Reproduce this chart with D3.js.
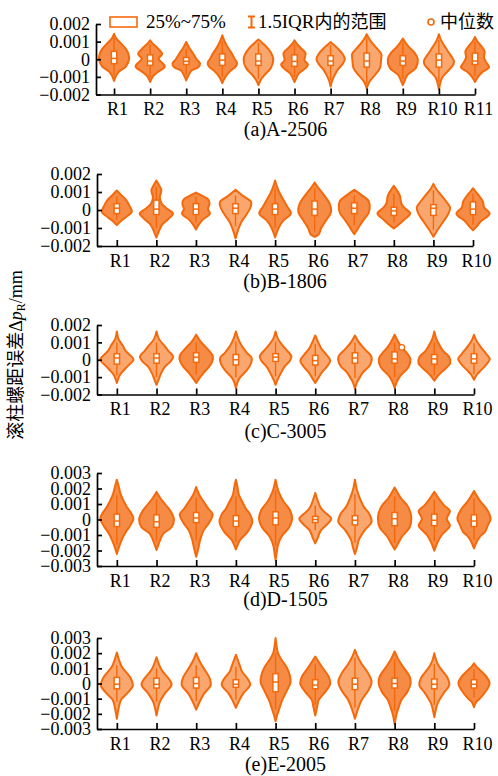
<!DOCTYPE html>
<html>
<head>
<meta charset="utf-8">
<script src="https://cdn.jsdelivr.net/npm/d3@7"></script>
<style>
  body { margin: 0; background: #fff; }
  svg { display: block; font-family: "Liberation Serif", "Times New Roman", "Noto Sans CJK SC", serif; }
  .tick text { font-family: "Liberation Serif", serif; font-size: 18px; fill: #000; }
</style>
</head>
<body>
<svg id="chart" width="498" height="776"></svg>
<script>
// Categories and tick values
const cats11 = ['R1', 'R2', 'R3', 'R4', 'R5', 'R6', 'R7', 'R8', 'R9', 'R10', 'R11'];
const cats10 = ['R1', 'R2', 'R3', 'R4', 'R5', 'R6', 'R7', 'R8', 'R9', 'R10'];
const ticks2 = [-2, -1, 0, 1, 2];   // x 0.001 mm
const ticks3 = [-3, -2, -1, 0, 1, 2, 3];

// Violin outlines: [value (x0.001 mm), relative density]
const violinsA = [
  [[-1.23,0],[-0.9,0.12],[-0.7,0.25],[-0.4,0.6],[0,0.75],[0.3,0.72],[0.6,0.58],[0.95,0.3],[1.2,0.1],[1.44,0]],
  [[-1.29,0],[-1.0,0.12],[-0.75,0.35],[-0.4,0.73],[-0.1,0.5],[0.05,0.42],[0.3,0.6],[0.6,0.4],[0.9,0.12],[1.08,0]],
  [[-1.2,0],[-0.9,0.12],[-0.65,0.25],[-0.45,0.6],[-0.25,0.69],[0,0.52],[0.35,0.33],[0.65,0.15],[0.98,0]],
  [[-1.35,0],[-1.0,0.15],[-0.7,0.37],[-0.4,0.68],[-0.2,0.73],[0.05,0.6],[0.35,0.46],[0.75,0.23],[1.05,0.1],[1.36,0]],
  [[-1.47,0],[-1.2,0.1],[-0.9,0.3],[-0.5,0.62],[0,0.74],[0.3,0.66],[0.6,0.48],[0.87,0.25],[1.12,0]],
  [[-1.29,0],[-1.0,0.12],[-0.8,0.22],[-0.5,0.55],[-0.3,0.67],[-0.05,0.5],[0.35,0.55],[0.65,0.3],[0.9,0.1],[1.08,0]],
  [[-1.55,0],[-1.2,0.08],[-0.9,0.2],[-0.6,0.35],[-0.3,0.58],[0,0.71],[0.3,0.6],[0.6,0.37],[0.85,0.12],[0.98,0]],
  [[-1.66,0],[-1.3,0.12],[-0.95,0.37],[-0.5,0.66],[0,0.72],[0.3,0.73],[0.6,0.52],[0.97,0.24],[1.2,0.1],[1.42,0]],
  [[-1.47,0],[-1.2,0.1],[-0.9,0.22],[-0.5,0.65],[0,0.75],[0.35,0.6],[0.7,0.3],[1.0,0.1],[1.17,0]],
  [[-1.7,0],[-1.3,0.08],[-1.05,0.16],[-0.7,0.42],[-0.3,0.72],[-0.1,0.75],[0.4,0.48],[0.75,0.28],[1.1,0.1],[1.42,0]],
  [[-1.29,0],[-1.0,0.15],[-0.75,0.35],[-0.45,0.7],[-0.15,0.55],[0.1,0.45],[0.45,0.48],[0.8,0.28],[1.05,0.1],[1.27,0]]
];
// [whisker low, q1, median, q3, whisker high]
const boxesA = [
  [-0.9,-0.25,0.05,0.45,1.2], [-1.0,-0.35,-0.1,0.25,0.85], [-0.9,-0.3,-0.12,0.1,0.6],
  [-1.0,-0.35,-0.05,0.3,1.0], [-1.1,-0.35,-0.1,0.3,0.95], [-1.0,-0.4,-0.12,0.25,0.85],
  [-1.2,-0.35,-0.1,0.2,0.8], [-1.4,-0.45,-0.1,0.35,1.2], [-1.1,-0.35,-0.1,0.2,0.95],
  [-1.3,-0.45,-0.05,0.3,1.1], [-0.95,-0.3,-0.1,0.35,1.0]
];

const violinsB = [
  [[-0.84,0],[-0.6,0.22],[-0.4,0.45],[-0.1,0.75],[0.2,0.65],[0.55,0.47],[0.85,0.2],[1.08,0]],
  [[-1.53,0],[-1.2,0.12],[-0.8,0.3],[-0.5,0.6],[-0.2,0.83],[0.1,0.5],[0.35,0.27],[0.7,0.17],[1.1,0.25],[1.4,0.12],[1.64,0]],
  [[-1.08,0],[-0.8,0.15],[-0.55,0.33],[-0.2,0.7],[0.05,0.6],[0.35,0.68],[0.6,0.6],[0.8,0.3],[0.97,0]],
  [[-1.58,0],[-1.2,0.1],[-0.9,0.2],[-0.6,0.33],[-0.2,0.58],[0.15,0.75],[0.45,0.78],[0.8,0.35],[1.12,0]],
  [[-1.53,0],[-1.2,0.1],[-0.9,0.22],[-0.6,0.4],[-0.2,0.79],[0.2,0.6],[0.55,0.42],[1.0,0.2],[1.35,0.08],[1.64,0]],
  [[-1.49,0],[-1.35,0.2],[-1.0,0.33],[-0.55,0.58],[-0.1,0.82],[0.35,0.75],[0.9,0.42],[1.2,0.2],[1.53,0]],
  [[-1.34,0],[-1.1,0.15],[-0.9,0.25],[-0.5,0.5],[-0.2,0.7],[0.1,0.77],[0.5,0.72],[0.8,0.4],[1.12,0]],
  [[-1.02,0],[-0.8,0.25],[-0.55,0.5],[-0.2,0.82],[0.1,0.55],[0.35,0.38],[0.8,0.3],[1.1,0.15],[1.34,0]],
  [[-1.49,0],[-1.15,0.18],[-0.6,0.52],[-0.2,0.75],[0.15,0.83],[0.5,0.62],[0.85,0.37],[1.15,0.15],[1.45,0]],
  [[-1.12,0],[-0.9,0.2],[-0.65,0.37],[-0.2,0.83],[0.15,0.55],[0.45,0.5],[0.75,0.33],[1.0,0.15],[1.21,0]]
];
const boxesB = [
  [-0.55,-0.2,0.1,0.35,0.75], [-1.0,-0.25,0.05,0.55,1.3], [-0.7,-0.25,0.05,0.35,0.75],
  [-0.9,-0.2,0.1,0.35,0.8], [-1.0,-0.25,0.05,0.35,1.2], [-1.2,-0.3,0.05,0.5,1.2],
  [-0.85,-0.2,0.1,0.4,0.8], [-0.7,-0.3,-0.05,0.15,0.9], [-1.1,-0.3,0.1,0.3,1.1],
  [-0.8,-0.25,0.05,0.45,0.9]
];

const violinsC = [
  [[-1.34,0],[-1.0,0.1],[-0.8,0.2],[-0.4,0.52],[0,0.83],[0.2,0.72],[0.5,0.45],[0.8,0.3],[1.2,0.08],[1.63,0]],
  [[-1.44,0],[-1.1,0.12],[-0.8,0.22],[-0.4,0.42],[-0.1,0.7],[0.2,0.83],[0.5,0.6],[0.8,0.4],[1.2,0.12],[1.63,0]],
  [[-1.34,0],[-1.0,0.2],[-0.75,0.37],[-0.4,0.65],[-0.1,0.8],[0.2,0.83],[0.65,0.54],[1.0,0.25],[1.44,0]],
  [[-1.63,0],[-1.3,0.08],[-1.0,0.22],[-0.6,0.55],[-0.2,0.76],[0.1,0.79],[0.4,0.55],[0.8,0.29],[1.2,0.12],[1.63,0]],
  [[-1.44,0],[-1.1,0.12],[-0.8,0.25],[-0.4,0.45],[-0.05,0.72],[0.2,0.79],[0.5,0.6],[0.8,0.37],[1.2,0.12],[1.63,0]],
  [[-1.34,0],[-1.0,0.18],[-0.7,0.35],[-0.4,0.58],[-0.05,0.75],[0.3,0.55],[0.6,0.33],[1.0,0.15],[1.4,0]],
  [[-1.67,0],[-1.3,0.1],[-1.0,0.25],[-0.75,0.38],[-0.3,0.75],[0.15,0.83],[0.6,0.5],[1.0,0.2],[1.4,0]],
  [[-1.63,0],[-1.3,0.1],[-0.95,0.27],[-0.4,0.7],[0.05,0.79],[0.4,0.6],[0.7,0.37],[1.05,0.17],[1.44,0]],
  [[-1.21,0],[-0.9,0.2],[-0.65,0.42],[-0.2,0.79],[0.15,0.75],[0.5,0.45],[0.8,0.28],[1.2,0.1],[1.63,0]],
  [[-1.15,0],[-0.85,0.15],[-0.6,0.35],[-0.3,0.6],[0.05,0.79],[0.35,0.6],[0.7,0.36],[1.1,0.12],[1.44,0]]
];
const boxesC = [
  [-0.9,-0.25,0.1,0.35,1.0], [-1.0,-0.2,0.1,0.35,1.0], [-0.85,-0.15,0.15,0.4,1.0],
  [-1.0,-0.3,0.0,0.3,1.05], [-0.95,-0.1,0.15,0.35,1.05], [-0.95,-0.3,-0.05,0.25,0.9],
  [-1.05,-0.2,0.1,0.4,1.0], [-1.0,-0.2,0.05,0.45,1.0], [-0.9,-0.25,0.05,0.3,1.0],
  [-0.8,-0.2,0.05,0.35,0.95]
];
// stray point in (c) R8: [category index, value, offset in category units]
const extraC = [[7, 0.71, 0.18]];

const violinsD = [
  [[-2.23,0],[-1.8,0.1],[-1.3,0.25],[-0.9,0.4],[-0.4,0.66],[0.05,0.83],[0.4,0.72],[0.8,0.5],[1.1,0.38],[1.6,0.2],[2.1,0.1],[2.57,0]],
  [[-1.97,0],[-1.6,0.1],[-1.2,0.22],[-0.9,0.35],[-0.5,0.75],[0,0.87],[0.5,0.72],[1.0,0.42],[1.4,0.18],[1.78,0]],
  [[-2.4,0],[-1.9,0.1],[-1.3,0.2],[-0.7,0.37],[-0.2,0.65],[0.35,0.82],[0.7,0.6],[1.1,0.4],[1.6,0.15],[2.1,0]],
  [[-1.93,0],[-1.6,0.1],[-1.3,0.22],[-0.8,0.58],[-0.15,0.82],[0.3,0.72],[0.7,0.5],[1.05,0.36],[1.6,0.15],[2.1,0.08],[2.57,0]],
  [[-2.6,0],[-2.1,0.06],[-1.65,0.12],[-1.1,0.3],[-0.5,0.68],[0.05,0.83],[0.6,0.72],[1.2,0.38],[1.8,0.15],[2.57,0]],
  [[-1.54,0],[-1.2,0.12],[-0.7,0.28],[-0.3,0.6],[0.05,0.8],[0.35,0.58],[0.7,0.3],[1.05,0.17],[1.71,0]],
  [[-2.23,0],[-1.8,0.1],[-1.3,0.2],[-0.7,0.48],[-0.15,0.83],[0.4,0.7],[0.8,0.45],[1.25,0.28],[1.9,0.1],[2.57,0]],
  [[-1.93,0],[-1.6,0.15],[-1.1,0.37],[-0.5,0.75],[0.15,0.83],[0.8,0.68],[1.4,0.3],[2.06,0]],
  [[-2.01,0],[-1.5,0.15],[-1.0,0.37],[-0.4,0.78],[0.05,0.62],[0.55,0.78],[0.9,0.5],[1.3,0.25],[1.78,0]],
  [[-1.86,0],[-1.4,0.15],[-1.1,0.3],[-0.8,0.55],[-0.35,0.7],[0.05,0.83],[0.6,0.67],[1.2,0.3],[1.84,0]]
];
const boxesD = [
  [-1.6,-0.45,-0.1,0.35,1.55], [-1.4,-0.5,-0.15,0.3,1.3], [-1.35,-0.2,0.1,0.45,1.4],
  [-1.45,-0.45,-0.1,0.25,1.5], [-1.7,-0.35,0.1,0.5,1.9], [-0.7,-0.2,0.0,0.2,0.9],
  [-1.5,-0.35,-0.05,0.25,1.65], [-1.5,-0.4,0.05,0.45,1.5], [-1.4,-0.4,-0.05,0.35,1.3],
  [-1.3,-0.45,-0.1,0.3,1.35]
];

const violinsE = [
  [[-2.33,0],[-1.7,0.08],[-1.1,0.2],[-0.6,0.55],[-0.15,0.8],[0.4,0.67],[1.1,0.25],[1.6,0.1],[2.04,0]],
  [[-2.11,0],[-1.6,0.08],[-1.2,0.17],[-0.65,0.42],[-0.1,0.75],[0.25,0.65],[0.9,0.25],[1.73,0]],
  [[-1.73,0],[-1.2,0.17],[-0.65,0.4],[-0.1,0.73],[0.35,0.67],[1.1,0.33],[1.6,0.12],[2.0,0]],
  [[-1.6,0],[-1.1,0.17],[-0.65,0.37],[-0.1,0.71],[0.25,0.62],[0.8,0.3],[1.1,0.22],[1.89,0]],
  [[-2.49,0],[-2.0,0.1],[-1.6,0.2],[-1.1,0.33],[-0.45,0.57],[0.1,0.75],[0.55,0.71],[1.1,0.54],[1.6,0.28],[2.0,0.12],[2.4,0.06],[3.0,0]],
  [[-2.11,0],[-1.5,0.1],[-1.1,0.17],[-0.55,0.5],[0,0.75],[0.45,0.67],[1.1,0.33],[1.78,0]],
  [[-2.33,0],[-1.8,0.12],[-1.1,0.33],[-0.45,0.67],[0.1,0.83],[0.65,0.67],[1.3,0.33],[1.8,0.12],[2.22,0]],
  [[-2.67,0],[-2.0,0.1],[-1.5,0.22],[-1.1,0.33],[-0.55,0.64],[0,0.8],[0.45,0.75],[1.1,0.42],[1.6,0.18],[2.11,0]],
  [[-2.22,0],[-1.7,0.08],[-1.3,0.17],[-0.65,0.46],[-0.1,0.75],[0.35,0.67],[1.1,0.25],[1.5,0.1],[2.0,0]],
  [[-1.56,0],[-1.2,0.12],[-1.0,0.29],[-0.45,0.62],[0,0.78],[0.45,0.62],[0.9,0.29],[1.15,0.1],[1.33,0]]
];
const boxesE = [
  [-1.2,-0.35,-0.05,0.4,1.2], [-1.2,-0.3,-0.05,0.35,1.0], [-1.15,-0.3,0.0,0.4,1.2],
  [-1.05,-0.25,-0.05,0.25,1.1], [-1.7,-0.55,0.1,0.65,2.0], [-1.4,-0.35,-0.1,0.25,1.3],
  [-1.6,-0.4,-0.05,0.35,1.7], [-1.8,-0.3,0.0,0.35,1.6], [-1.4,-0.35,-0.05,0.3,1.3],
  [-0.9,-0.3,-0.05,0.25,0.95]
];

const panels = [
  { title: '(a)A-2506', cats: cats11, ticks: ticks2, violins: violinsA, boxes: boxesA, extra: [] },
  { title: '(b)B-1806', cats: cats10, ticks: ticks2, violins: violinsB, boxes: boxesB, extra: [] },
  { title: '(c)C-3005', cats: cats10, ticks: ticks2, violins: violinsC, boxes: boxesC, extra: extraC },
  { title: '(d)D-1505', cats: cats10, ticks: ticks3, violins: violinsD, boxes: boxesD, extra: [] },
  { title: '(e)E-2005', cats: cats10, ticks: ticks3, violins: violinsE, boxes: boxesE, extra: [] }
];

// Pixel frames of the five stacked plots
const frames = [
  { top: 24,  bottom: 94.5,  left: 96, right: 475, titleY: 136 },
  { top: 174, bottom: 246,   left: 97, right: 473, titleY: 288 },
  { top: 325, bottom: 394.5, left: 97, right: 474, titleY: 438 },
  { top: 473, bottom: 566,   left: 97, right: 474, titleY: 606 },
  { top: 638, bottom: 729,   left: 97, right: 474, titleY: 771 }
];

// styling: which violins use the paler fill in each panel
const paleFill = [
  [4, 6, 7, 9],
  [3, 8],
  [0, 1, 3, 4, 5, 6, 9],
  [5, 6],
  [0, 1, 2, 3, 6, 8]
];
const FILL_DARK = '#f58b44';
const FILL_PALE = '#f9a76e';
const STROKE = '#f4690c';

const svg = d3.select('#chart');
const widthScale = d3.scaleLinear().domain([0, 1]).range([0, 20]);

const fmtY = d => d === 0 ? '0' : (d / 1000).toFixed(3).replace('-', '\u2212');

panels.forEach((p, i) => {
  const f = frames[i];
  const n = p.cats.length;
  const yMax = d3.max(p.ticks);

  const x = d3.scaleLinear().domain([0.5, n]).range([f.left, f.right]);
  const y = d3.scaleLinear().domain([-yMax, yMax]).range([f.bottom, f.top]);

  const g = svg.append('g');

  // violins
  p.violins.forEach((prof, j) => {
    const cx = x(j + 1);
    const area = d3.area()
      .y(d => y(d[0]))
      .x0(d => cx - widthScale(d[1]))
      .x1(d => cx + widthScale(d[1]))
      .curve(d3.curveCatmullRom.alpha(0.5));
    g.append('path')
      .attr('d', area(prof))
      .attr('fill', paleFill[i].includes(j) ? FILL_PALE : FILL_DARK)
      .attr('stroke', STROKE)
      .attr('stroke-width', 2)
      .attr('stroke-linejoin', 'round');
  });

  // whiskers + boxes
  p.boxes.forEach((b, j) => {
    const cx = x(j + 1);
    const [wlo, q1, med, q3, whi] = b;
    g.append('line')
      .attr('x1', cx).attr('x2', cx)
      .attr('y1', y(wlo)).attr('y2', y(whi))
      .attr('stroke', STROKE).attr('stroke-width', 1.4);
    g.append('rect')
      .attr('x', cx - 2.7).attr('width', 5.4)
      .attr('y', y(q3)).attr('height', y(q1) - y(q3))
      .attr('fill', '#fff')
      .attr('stroke', STROKE).attr('stroke-width', 1.5);
    g.append('line')
      .attr('x1', cx - 2.7).attr('x2', cx + 2.7)
      .attr('y1', y(med)).attr('y2', y(med))
      .attr('stroke', STROKE).attr('stroke-width', 1.5);
  });

  p.extra.forEach(([j, v, off]) => {
    g.append('circle')
      .attr('cx', x(j + 1 + off)).attr('cy', y(v)).attr('r', 2.8)
      .attr('fill', '#fff').attr('stroke', STROKE).attr('stroke-width', 1.3);
  });

  // axes
  const yAxis = d3.axisLeft(y)
    .tickValues(p.ticks)
    .tickFormat(fmtY)
    .tickSizeInner(-5)
    .tickSizeOuter(0)
    .tickPadding(6);
  const xAxis = d3.axisBottom(x)
    .tickValues(d3.range(1, n + 1))
    .tickFormat(k => p.cats[k - 1])
    .tickSizeInner(-6)
    .tickSizeOuter(0)
    .tickPadding(8);

  const ya = g.append('g')
    .attr('transform', `translate(${f.left},0)`)
    .call(yAxis);
  const xa = g.append('g')
    .attr('transform', `translate(0,${f.bottom})`)
    .call(xAxis);

  [ya, xa].forEach(a => {
    a.attr('font-family', null).attr('font-size', null);
    a.select('.domain').attr('stroke', '#000').attr('stroke-width', 1.7);
    a.selectAll('.tick line').attr('stroke', '#000').attr('stroke-width', 1.7);
  });
  xa.selectAll('.tick text').attr('dx', 3);

  g.append('text')
    .attr('x', (f.left + f.right) / 2)
    .attr('y', f.titleY)
    .attr('text-anchor', 'middle')
    .style('font-size', '20px')
    .text(p.title);
});

// legend
const legend = svg.append('g').style('font-size', '19px');
legend.append('rect')
  .attr('x', 110).attr('y', 17).attr('width', 27).attr('height', 10)
  .attr('fill', '#fff').attr('stroke', STROKE).attr('stroke-width', 1.6);
legend.append('text').attr('x', 146).attr('y', 28).text('25%~75%');
legend.append('path')
  .attr('d', 'M248,16.5H255M251.5,16.5V27.5M248,27.5H255')
  .attr('fill', 'none').attr('stroke', STROKE).attr('stroke-width', 2);
legend.append('text').attr('x', 258).attr('y', 28)
  .call(t => {
    t.append('tspan').text('1.5IQR');
    t.append('tspan').style('font-family', '"Noto Sans CJK SC"').style('font-size', '18px').text('内的范围');
  });
legend.append('circle')
  .attr('cx', 431).attr('cy', 22).attr('r', 3)
  .attr('fill', '#fff').attr('stroke', STROKE).attr('stroke-width', 1.6);
legend.append('text').attr('x', 440).attr('y', 28)
  .style('font-family', '"Noto Sans CJK SC"').style('font-size', '18px').text('中位数');

// y-axis title
const yTitle = svg.append('text')
  .attr('transform', 'translate(22,355) rotate(-90)')
  .attr('text-anchor', 'middle')
  .style('font-size', '18px');
yTitle.append('tspan').style('font-family', '"Noto Sans CJK SC"').text('滚柱螺距误差');
yTitle.append('tspan').text('\u0394');
yTitle.append('tspan').attr('font-style', 'italic').text('p');
yTitle.append('tspan').style('font-size', '12px').attr('dy', 3).text('R');
yTitle.append('tspan').attr('dy', -3).text('/mm');
</script>
</body>
</html>
